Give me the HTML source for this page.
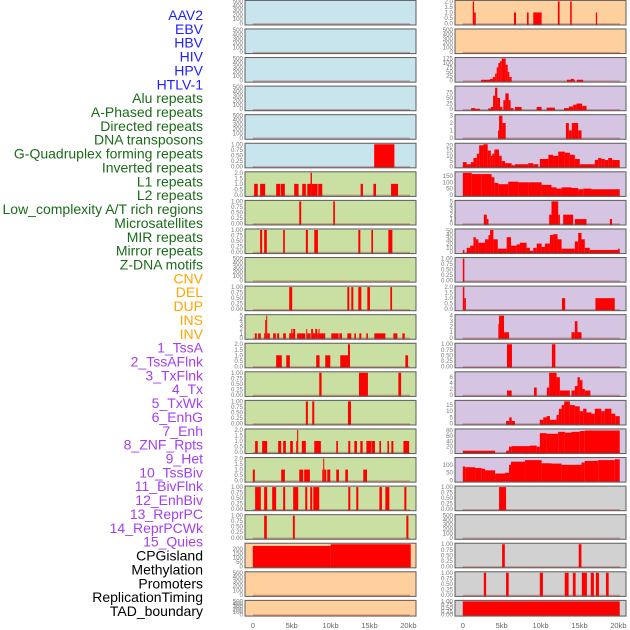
<!DOCTYPE html>
<html><head><meta charset="utf-8">
<style>
html,body{margin:0;padding:0;background:#fff;}
svg{display:block;font-family:"Liberation Sans",sans-serif;}
</style></head>
<body>
<svg id="chart" width="630" height="630" viewBox="0 0 630 630" xmlns="http://www.w3.org/2000/svg"></svg>
<script>
// ---- track names / groups ----
const trackNames = ["AAV2","EBV","HBV","HIV","HPV","HTLV-1","Alu repeats","A-Phased repeats","Directed repeats","DNA transposons","G-Quadruplex forming repeats","Inverted repeats","L1 repeats","L2 repeats","Low_complexity A/T rich regions","Microsatellites","MIR repeats","Mirror repeats","Z-DNA motifs","CNV","DEL","DUP","INS","INV","1_TssA","2_TssAFlnk","3_TxFlnk","4_Tx","5_TxWk","6_EnhG","7_Enh","8_ZNF_Rpts","9_Het","10_TssBiv","11_BivFlnk","12_EnhBiv","13_ReprPC","14_ReprPCWk","15_Quies","CPGisland","Methylation","Promoters","ReplicationTiming","TAD_boundary"];
const trackGroups = ["v","v","v","v","v","v","r","r","r","r","r","r","r","r","r","r","r","r","r","s","s","s","s","s","c","c","c","c","c","c","c","c","c","c","c","c","c","c","c","k","k","k","k","k"];
// y-axis maxima per track
const trackMax = [500,500,500,500,500,1,2,1,1,500,1,5,2,1,1,2,2,1,1,255,500,500,2,500,125,98,3,21,175,5,52,1,2,4,1,7.5,18,82,140,1,500,1,1,1];
// tick labels per track
const tickLabels = {
  empty:["0","100","200","300","400","500"],
  one:["0.00","0.25","0.50","0.75","1.00"],
  two:["0.0","0.5","1.0","1.5","2.0"],
  five:["0","1","2","3","4","5"],
  cnv:["0","50","100","150","200"],
  tssA:["0","25","50","75","100","125"],
  tssAFlnk:["0","25","50","75"],
  three:["0","1","2","3"],
  tx:["0","5","10","15","20"],
  txWk:["0","50","100","150"],
  enh:["0","10","20","30","40","50"],
  four:["0","1","2","3","4"],
  enhBiv:["0","2","4","6"],
  reprPC:["0","5","10","15"],
  reprPCWk:["0","20","40","60","80"],
  quies:["0","50","100"]
};
const trackTicks = ["empty","empty","empty","empty","empty","one","two","one","one","empty","one","five","two","one","one","two","two","one","one","cnv","empty","empty","two","empty","tssA","tssAFlnk","three","tx","txWk","five","enh","one","two","four","one","enhBiv","reprPC","reprPCWk","quies","one","empty","one","one","one"];

// ---- data: [startKb, endKb, value] ----
const htlv = [[15.6,18.2,1]];
const alu = [[0.17,0.64,1],[0.94,1.59,1],[3.0,3.52,1],[3.6,4.12,1],[5.32,5.88,1],[6.35,6.82,1],[7.0,7.42,1],[7.42,7.6,2],[7.6,8.33,1],[8.41,8.93,1],[13.86,14.16,1],[15.5,15.84,1],[17.77,18.67,1]];
const aPhased = [[5.97,6.22,1],[10.34,10.56,1]];
const directed = [[0.94,1.2,1],[1.46,1.8,1],[3.9,4.12,1],[6.82,7.08,1],[7.9,8.37,1],[13.56,13.82,1],[15.24,15.45,1],[17.42,17.94,1]];
const dnaTrans = [];
const gQuad = [[4.68,5.06,1],[12.15,12.4,1],[12.66,12.92,1],[13.56,13.95,1],[14.72,15.06,1],[17.68,17.9,1]];
const inverted = [[0.26,0.52,1],[0.69,1.03,1],[1.46,1.59,1],[1.59,1.72,4],[1.72,1.85,5],[1.85,2.19,1],[2.62,2.96,1],[3.13,3.39,1],[3.9,4.25,1],[4.68,4.94,1],[4.94,5.1,2],[5.1,5.19,1],[5.19,5.45,2],[5.7,6.74,1],[6.87,7.0,2],[7.0,7.42,1],[7.5,7.73,2],[7.73,8.03,1],[8.03,8.28,2],[8.28,8.45,1],[8.45,8.58,2],[8.58,9.31,1],[10.09,11.03,1],[11.12,11.46,1],[12.15,12.66,1],[13.05,13.26,1],[13.69,13.95,1],[14.6,14.8,1],[15.62,17.04,1],[18.07,18.58,1],[19.23,19.53,1]];
const l1 = [[3.0,3.73,1],[4.3,4.76,1],[8.15,8.58,1],[9.31,9.96,1],[11.24,12.23,1],[12.23,12.49,2],[19.61,19.96,1]];
const l2 = [[8.54,8.84,1],[13.65,14.8,1],[18.71,19.06,1]];
const lowComplex = [[6.82,7.08,1],[7.64,7.9,1],[12.23,12.62,1]];
const microsat = [[0.3,0.64,1],[1.2,1.85,1],[3.26,3.65,1],[3.9,4.25,1],[4.8,5.15,1],[5.58,5.7,1],[5.7,5.84,2],[6.3,6.82,1],[7.9,8.75,1],[10.73,10.94,1],[12.27,12.53,1],[13.05,13.39,1],[13.82,14.12,1],[14.6,15.19,1],[15.24,15.7,1],[16.27,16.48,1],[17.3,17.5,1],[17.81,18.07,1],[19.36,20.09,1]];
const mir = [[0,0.26,1],[3.65,4.12,1],[5.97,6.48,1],[6.6,7.34,1],[8.93,9.05,1],[9.05,9.18,2],[9.18,9.44,1],[9.57,9.96,1],[10.73,11.07,1],[11.89,12.23,1],[14.2,14.68,1]];
const mirror = [[0.3,1.03,1],[1.46,1.85,1],[2.49,3.0,1],[3.9,4.16,1],[5.19,5.84,1],[6.74,7.0,1],[7.38,7.64,1],[7.77,8.54,1],[12.27,12.53,1],[13.3,13.56,1],[16.27,16.6,1],[17.04,17.55,1],[19.48,19.74,1]];
const zdna = [[1.46,1.8,1],[5.15,5.4,1],[19.74,20.0,1]];
const cnv = [[0,10.0,235],[10.0,20.3,255]];
const ins = [[1.28,1.45,2],[1.45,1.67,1],[6.58,6.84,1],[8.25,8.46,1],[9.06,10.13,1],[12.22,12.44,2],[13.8,14.0,2],[17.1,17.26,1]];
const tssA = [[2.35,3.5,5],[3.5,3.85,10],[3.85,4.15,20],[4.15,4.36,40],[4.36,4.57,75],[4.57,4.79,100],[4.79,5.0,110],[5.0,5.51,125],[5.51,5.77,90],[5.77,5.98,50],[5.98,6.28,20],[13.38,13.89,5],[13.89,14.27,10],[14.27,14.4,5],[14.66,15.47,5]];
const tssAFlnk = [[1.07,1.58,5],[1.58,2.22,2],[3.25,3.59,3],[3.59,3.89,10],[3.89,4.15,60],[4.15,4.44,95],[4.44,4.79,50],[4.79,5.09,10],[5.21,5.47,40],[5.47,5.9,70],[5.9,6.15,40],[6.15,6.5,5],[6.7,7.56,10],[9.49,10.13,10],[10.77,11.84,7],[13.0,13.63,5],[13.63,14.19,12],[14.19,14.62,20],[14.62,15.34,25],[15.34,15.9,15]];
const txFlnk = [[4.53,4.66,1],[4.66,5.09,3],[5.09,5.51,2],[13.25,13.63,2],[13.63,14.0,1],[14.0,14.83,2],[14.83,15.26,1]];
const tx = [[0,0.5,4],[0.5,1.03,2],[1.03,1.37,4],[1.37,1.8,8],[1.8,2.1,12],[2.1,2.65,20],[2.65,3.2,21],[3.2,3.6,15],[3.6,3.8,10],[3.8,4.06,12],[4.06,4.66,16],[4.66,5.0,10],[5.0,5.43,5],[5.43,6.28,3],[6.28,6.7,1],[6.7,8.4,2],[8.4,9.06,3],[9.06,9.7,2],[9.9,11.0,7],[11.0,11.6,11],[11.6,12.26,10],[12.26,13.12,14],[13.12,13.76,13],[13.76,14.4,11],[14.4,15.04,7],[15.04,16.97,2],[16.97,17.4,6],[17.4,17.8,8],[17.8,18.25,7],[18.25,18.7,6],[18.7,19.19,8],[19.19,20.17,6]];
const txWk = [[0,1.15,175],[1.15,2.44,165],[2.44,3.7,165],[3.7,4.06,140],[4.06,4.57,95],[4.57,5.85,85],[5.85,7.14,105],[7.14,8.4,100],[8.4,10.13,100],[10.13,11.4,80],[11.4,12.05,60],[12.05,12.7,50],[12.7,13.97,60],[13.97,14.83,55],[14.83,15.47,45],[15.47,16.54,50],[16.54,20.17,45]];
const enhG = [[2.7,3.08,2],[3.08,3.3,1],[11.1,11.4,2],[11.4,12.26,5],[12.26,12.48,2],[12.9,14.19,2],[14.4,15.9,1],[18.9,19.19,1]];
const enh = [[0,0.2,5],[0.5,0.94,10],[0.94,1.37,15],[1.37,1.67,35],[1.67,2.0,30],[2.0,2.86,22],[2.86,3.3,30],[3.3,3.5,40],[3.5,3.93,52],[3.93,4.5,30],[4.5,5.64,8],[5.64,6.2,35],[6.2,6.92,15],[6.92,7.35,18],[7.35,8.2,22],[8.2,8.63,10],[8.63,9.06,3],[9.06,9.5,10],[9.5,10.13,20],[10.13,10.56,12],[10.56,11.2,20],[11.2,11.6,40],[11.6,12.18,42],[12.18,12.7,30],[12.7,14.4,8],[14.4,14.83,25],[14.83,15.26,45],[15.26,15.68,30],[15.68,16.32,10],[16.32,19.96,5],[19.96,20.17,8]];
const znf = [[0,0.2,1]];
const het = [[0,0.2,2],[0.2,0.4,1],[12.74,13.16,1],[17.05,19.53,1]];
const tssBiv = [[4.57,4.66,2.5],[4.66,5.3,4],[5.3,5.94,1],[13.97,14.4,1],[14.4,14.74,3],[14.74,15.26,1]];
const bivFlnk = [[5.68,6.32,1],[11.45,11.9,1]];
const enhBiv = [[5.68,6.28,1.5],[9.15,9.5,2.5],[10.8,11.1,2.5],[11.1,12.05,7.5],[12.05,12.48,6],[12.48,13.76,1.5],[13.97,14.4,1.5],[14.4,14.74,3],[14.74,15.04,6],[15.04,15.38,5],[15.38,15.68,2],[15.68,16.4,1.5]];
const reprPC = [[5.56,5.98,2],[5.98,6.28,5],[6.28,6.7,2],[9.9,10.34,3],[10.34,10.77,5],[10.77,11.2,6],[11.2,12.05,3],[12.05,12.35,7],[12.35,12.7,12],[12.7,13.03,15],[13.03,13.76,18],[13.76,14.4,15],[14.4,15.04,14],[15.04,15.47,10],[15.47,15.9,12],[15.9,16.54,9],[16.54,16.97,8],[16.97,17.8,12],[17.8,18.25,10],[18.25,19.1,12],[19.1,19.6,8],[19.6,20.17,6]];
const reprPCWk = [[0,4.15,5],[5.56,5.94,5],[5.94,6.28,20],[6.28,8.63,22],[8.63,9.5,24],[9.5,9.9,20],[9.9,10.77,70],[10.77,12.26,68],[12.26,13.12,75],[13.12,13.97,72],[13.97,15.04,75],[15.04,15.68,78],[15.68,20.17,80]];
const quies = [[0,0.3,90],[0.3,1.58,85],[1.58,2.44,80],[2.44,2.86,75],[2.86,4.15,65],[4.15,5.43,45],[5.43,5.94,50],[5.94,6.2,100],[6.2,8.0,120],[8.0,10.13,130],[10.13,11.4,110],[11.4,12.7,108],[12.7,15.26,100],[15.26,15.68,115],[15.68,17.4,125],[17.4,19.53,130],[19.53,20.17,135]];
const cpg = [[4.66,5.56,1]];
const methyl = [];
const promoters = [[5.05,5.4,1],[14.9,15.25,1]];
const repTiming = [[2.7,3.0,1],[5.56,5.9,1],[9.9,10.3,1],[13.1,13.6,1],[14.15,14.5,1],[15.3,15.95,1],[16.45,16.85,1],[17.1,17.5,1],[18.4,18.75,1]];
const tad = [[0,20.17,1]];
const empty = [];
const trackData = [empty,empty,empty,empty,empty,htlv,alu,aPhased,directed,dnaTrans,gQuad,inverted,l1,l2,lowComplex,microsat,mir,mirror,zdna,cnv,empty,empty,ins,empty,tssA,tssAFlnk,txFlnk,tx,txWk,enhG,enh,znf,het,tssBiv,bivFlnk,enhBiv,reprPC,reprPCWk,quies,cpg,methyl,promoters,repTiming,tad];
const xTickValues = [0,5,10,15,20];
const xTickLabels = ["0","5kb","10kb","15kb","20kb"];

// ---- rendering ----
const NS = "http://www.w3.org/2000/svg";
const svg = document.getElementById("chart");
function mk(tag, attrs, parent){const e=document.createElementNS(NS,tag);for(const k in attrs)e.setAttribute(k,attrs[k]);(parent||svg).appendChild(e);return e;}
const labelColor = {v:"#1f1fff",r:"#1a6b1a",s:"#ffa500",c:"#a33ff0",k:"#000"};
const bgColor = {v:"#c8e4ec",r:"#c9e0a2",s:"#fed09e",c:"#d6c5e2",k:"#d1d1d1"};
const BG_LEFT_S = "#fed09e";

// labels
trackNames.forEach((n,i)=>{
  const t = mk("text",{x:203,y:15+13.86*i+5,"text-anchor":"end","font-size":"14",fill:labelColor[trackGroups[i]]});
  t.textContent = n;
  
  
});

const colLeft = [245,455];
const panelW = 171;
function xScale(col, kb){ return colLeft[col] + 7.8 + kb*7.78; }
trackNames.forEach((n,i)=>{
  const col = i<22?0:1, row = i%22;
  const top = 0.4 + 28.57*row;
  const h = row===21 ? 15.7 : 24.6;
  const g = mk("g",{});
  
  
  const bg = mk("rect",{x:colLeft[col],y:top,width:panelW,height:h,fill:bgColor[trackGroups[i]],stroke:"#5c5c5c","stroke-width":"1"},g);
  
  
  const y0 = top+h-1.5, y1 = top+1;
  const ymax = trackMax[i];
  const yScale = v => y0 - (v/ymax)*(y0-y1);
  trackData[i].forEach(s=>{
    const xa = xScale(col,s[0]), xb = xScale(col,s[1]);
    const yv = Math.max(top, yScale(s[2]));
    const r = mk("rect",{x:xa,y:yv,width:Math.max(1,xb-xa),height:top+h-0.5-yv,fill:"#ff0000"},g);
    
    
  });
  const bl = mk("line",{x1:xScale(col,0),x2:xScale(col,20.2),y1:top+h-1,y2:top+h-1,stroke:"rgba(150,40,40,0.35)","stroke-width":"1.5"},g);
  
  
  const labs = tickLabels[trackTicks[i]];
  labs.forEach(l=>{
    const v = parseFloat(l);
    const t = mk("text",{x:colLeft[col]-2,y:yScale(v)+2,"text-anchor":"end","font-size":"6.2",fill:"#7a7a7a"},g);
    t.textContent = l;
    
    
  });
});
// x axes
[0,1].forEach(col=>{
  xTickValues.forEach((v,j)=>{
    const t = mk("text",{x:xScale(col,v),y:628,"text-anchor":"middle","font-size":"7.5",fill:"#666"});
    t.textContent = xTickLabels[j];
    
    
  });
});
</script>
</body></html>
